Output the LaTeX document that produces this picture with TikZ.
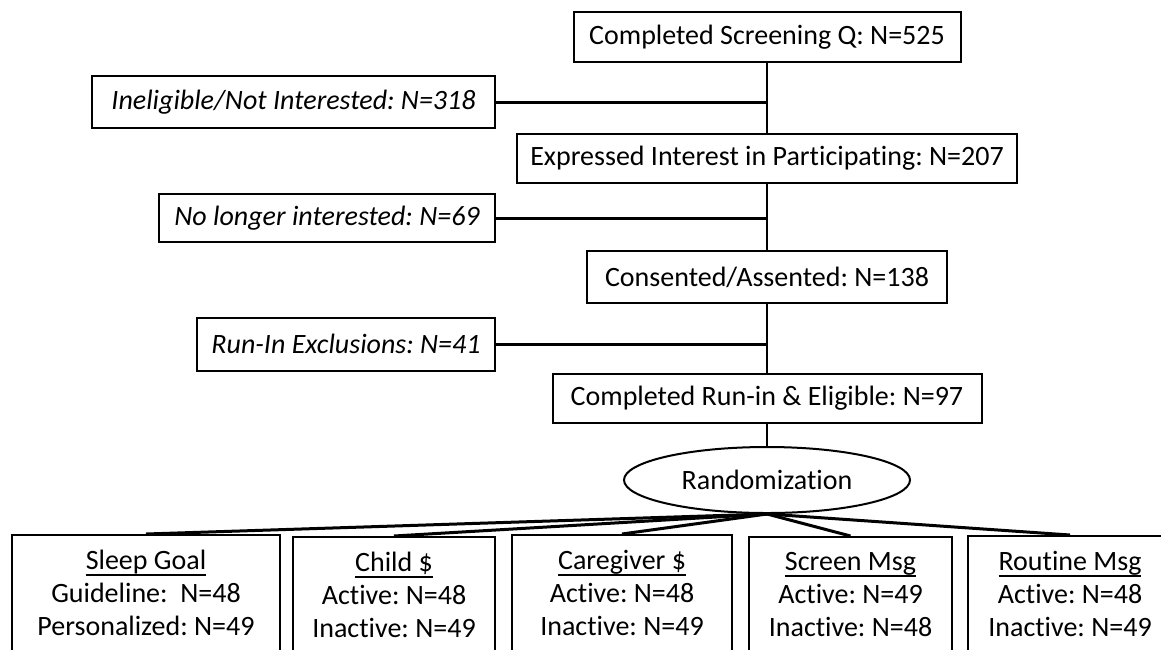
\documentclass[tikz,border=0pt]{standalone}
\usepackage{fontspec}
\setmainfont{Carlito}[Ligatures=NoCommon]
\usepackage{tikz}
\usetikzlibrary{shapes.geometric, positioning}
\frenchspacing

% underlined arm heading
\newcommand{\hdr}[1]{\setbox0=\hbox{#1}\rlap{\rule[-3pt]{\wd0}{1pt}}\box0}

\begin{document}
\begin{tikzpicture}[
    x=0.5pt, y=-0.5pt,
    box/.style={rectangle, draw, line width=1pt, inner sep=0pt, align=center, font=\fontsize{14}{16.5}\selectfont},
    excl/.style={box, font=\fontsize{14}{16.5}\selectfont\itshape},
    arm/.style={box, anchor=north, minimum height=58pt},
    trunk/.style={line width=1pt},
    side/.style={line width=1.5pt},
    fan/.style={line width=1.5pt}
]
    \useasboundingbox (0,0) rectangle (1161,649);
    \clip (0,0) rectangle (1161,649);

    % Main flow
    \node[box, minimum width=193.5pt, minimum height=25pt] (screenq) at (767,37) {Completed Screening Q: N=525};
    \node[box, minimum width=250pt, minimum height=24.5pt] (interest) at (767,158.5) {Expressed Interest in Participating: N=207};
    \node[box, minimum width=180pt, minimum height=26pt] (consent) at (767,277) {Consented/Assented: N=138};
    \node[box, minimum width=214.5pt, minimum height=24.5pt] (eligible) at (767,398.5) {Completed Run-in \& Eligible: N=97};

    % Exclusions
    \node[excl, minimum width=201.5pt, minimum height=26pt] (inelig) at (293.5,102) {Ineligible/Not Interested: N=318};
    \node[excl, minimum width=168pt, minimum height=24pt] (nolonger) at (327,218) {No longer interested: N=69};
    \node[excl, minimum width=149pt, minimum height=26.5pt] (runin) at (346,344) {Run-In Exclusions: N=41};

    % Randomization
    \node[ellipse, draw, line width=1pt, minimum width=143pt, minimum height=33pt, inner sep=0pt,
          font=\fontsize{14}{16.5}\selectfont] (rand) at (767,480) {Randomization};

    % Arms
    \node[arm, minimum width=134pt] (sleep) at (146,534) {\hdr{Sleep Goal}\\Guideline:\ \ N=48\\Personalized: N=49};
    \node[arm, minimum width=101pt] (child) at (394,536) {\hdr{Child \$}\\Active: N=48\\Inactive: N=49};
    \node[arm, minimum width=110pt] (caregiver) at (622,534) {\hdr{Caregiver \$}\\Active: N=48\\Inactive: N=49};
    \node[arm, minimum width=101.5pt] (screenmsg) at (850.5,536) {\hdr{Screen Msg}\\Active: N=49\\Inactive: N=48};
    \node[arm, minimum width=102pt] (routine) at (1070,535) {\hdr{Routine Msg}\\Active: N=48\\Inactive: N=49};

    \draw[trunk] (screenq) -- (interest);
    \draw[trunk] (interest) -- (consent);
    \draw[trunk] (consent) -- (eligible);
    \draw[trunk] (eligible) -- (rand);
    \draw[side] (inelig.east) -- (inelig.east -| screenq.south);
    \draw[side] (nolonger.east) -- (nolonger.east -| interest.south);
    \draw[side] (runin.east) -- (runin.east -| consent.south);
    \draw[fan] (rand.south) -- (sleep.north);
    \draw[fan] (rand.south) -- (child.north);
    \draw[fan] (rand.south) -- (caregiver.north);
    \draw[fan] (rand.south) -- (screenmsg.north);
    \draw[fan] (rand.south) -- (routine.north);
\end{tikzpicture}
\end{document}
